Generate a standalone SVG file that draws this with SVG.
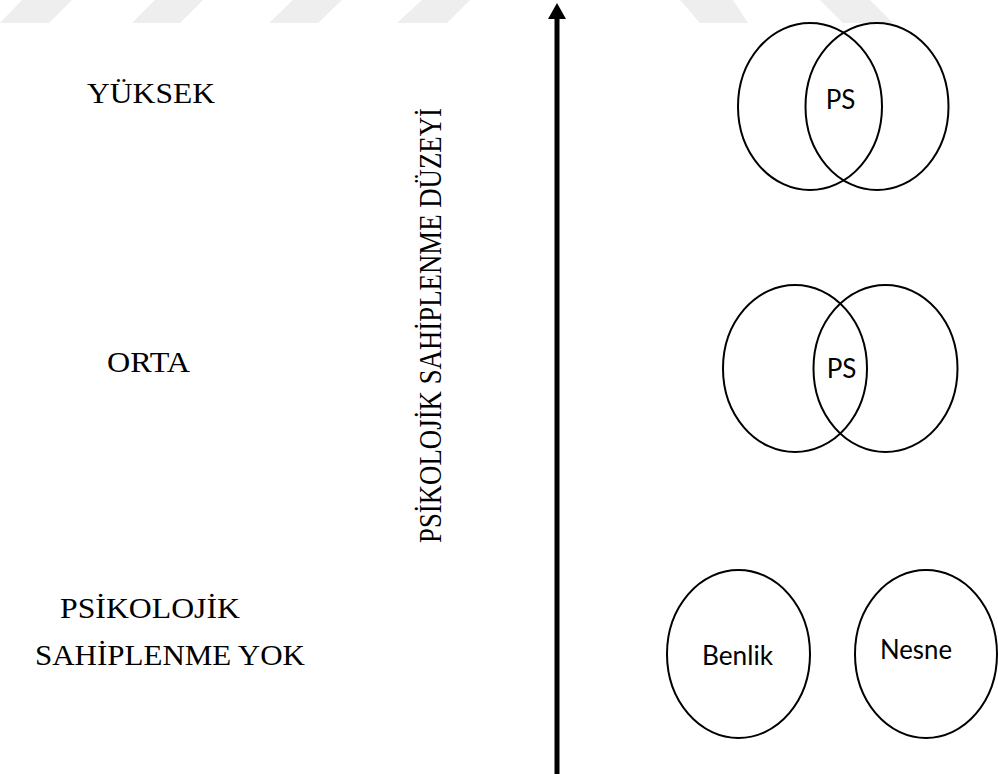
<svg xmlns="http://www.w3.org/2000/svg" width="998" height="774" viewBox="0 0 998 774">
<style>
.bg{fill:#ffffff}
.wm{fill:#eeeeee}
.serif{font-family:"Liberation Serif","Times New Roman",serif;fill:#000}
.sans{font-family:Lato,"Open Sans",sans-serif;fill:#000}
.ell{fill:none;stroke:#000;stroke-width:2}
.axis{stroke:#000;stroke-width:5;fill:none}
</style>
<defs>
<marker id="arrowhead" markerUnits="userSpaceOnUse" markerWidth="16" markerHeight="18" refX="0" refY="9" orient="auto" viewBox="0 0 16 18">
<path d="M0,0 L16,9 L0,18 Z" fill="#000"/>
</marker>
</defs>
<rect class="bg" x="0" y="0" width="998" height="774"/>
<g id="watermark">
<polygon class="wm" points="22,0 72,0 49,23 0,23"/>
<polygon class="wm" points="155,0 203,0 180,23 132,23"/>
<polygon class="wm" points="293,0 342,0 318,23 269,23"/>
<polygon class="wm" points="422,0 470,0 447,23 397,23"/>
<polygon class="wm" points="680,0 733,0 748,23 700,23"/>
<polygon class="wm" points="820,0 870,0 893,23 843,23"/>
</g>
<g id="connectors">
<line class="axis" x1="557" y1="774" x2="557" y2="19" marker-end="url(#arrowhead)"/>
</g>
<g id="label-yuksek">
<text class="serif" x="87" y="103" font-size="30" textLength="128" lengthAdjust="spacingAndGlyphs">YÜKSEK</text>
</g>
<g id="label-orta">
<text class="serif" x="107" y="372" font-size="30" textLength="83" lengthAdjust="spacingAndGlyphs">ORTA</text>
</g>
<g id="label-yok">
<text class="serif" x="60" y="618" font-size="30" textLength="180" lengthAdjust="spacingAndGlyphs">PSİKOLOJİK</text>
<text class="serif" x="35" y="665" font-size="30" textLength="270" lengthAdjust="spacingAndGlyphs">SAHİPLENME YOK</text>
</g>
<g id="axis-label">
<text class="serif" transform="translate(441,543) rotate(-90)" x="0" y="0" font-size="32" textLength="435" lengthAdjust="spacingAndGlyphs">PSİKOLOJİK SAHİPLENME DÜZEYİ</text>
</g>
<g id="high">
<ellipse class="ell" cx="810" cy="106.5" rx="72" ry="83.5"/>
<ellipse class="ell" cx="877" cy="106.5" rx="71.5" ry="83.5"/>
<text class="sans" x="840.5" y="109" font-size="26" text-anchor="middle">PS</text>
</g>
<g id="medium">
<ellipse class="ell" cx="795" cy="368.5" rx="72" ry="83.5"/>
<ellipse class="ell" cx="885.5" cy="368.5" rx="72" ry="83.5"/>
<text class="sans" x="841.5" y="378" font-size="26" text-anchor="middle">PS</text>
</g>
<g id="none-benlik">
<ellipse class="ell" cx="738.5" cy="654" rx="71.5" ry="84"/>
<text class="sans" x="737.5" y="665" font-size="26" text-anchor="middle" textLength="71" lengthAdjust="spacingAndGlyphs">Benlik</text>
</g>
<g id="none-nesne">
<ellipse class="ell" cx="926" cy="654" rx="71" ry="84"/>
<text class="sans" x="916" y="659" font-size="26" text-anchor="middle" textLength="72" lengthAdjust="spacingAndGlyphs">Nesne</text>
</g>
</svg>
